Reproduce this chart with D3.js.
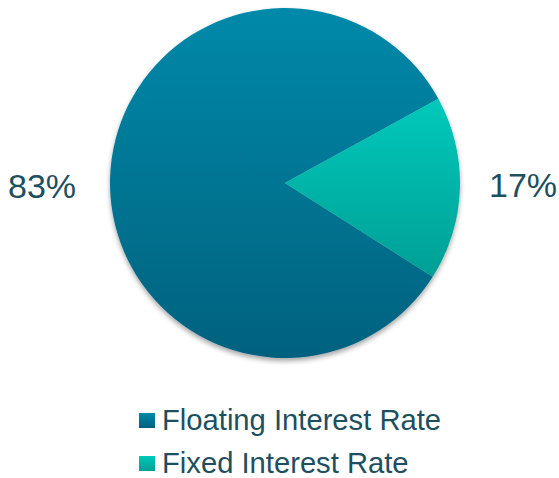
<!DOCTYPE html>
<html lang="en">
<head>
<meta charset="utf-8">
<script src="https://cdnjs.cloudflare.com/ajax/libs/d3/7.8.5/d3.min.js"></script>
<style>
  body { margin: 0; background: #fff; }
  text { font-family: "Liberation Sans", Arial, sans-serif; fill: #1d4f5f; }
</style>
</head>
<body>
<script>
// chart data
var categories = ["Floating Interest Rate", "Fixed Interest Rate"];
var values = [83, 17];
var sliceLabels = ["83%", "17%"];
var topColors = ["#0089a9", "#00c9bb"];
var bottomColors = ["#00617e", "#009f94"];

var width = 559, height = 478;
var cx = 285, cy = 183, radius = 175;

var svg = d3.select("body").append("svg")
    .attr("width", width)
    .attr("height", height);

var defs = svg.append("defs");

var shadow = defs.append("filter")
    .attr("id", "shadow")
    .attr("x", "-20%").attr("y", "-20%")
    .attr("width", "140%").attr("height", "140%");
shadow.append("feDropShadow")
    .attr("dx", 0).attr("dy", 3)
    .attr("stdDeviation", 2.5)
    .attr("flood-color", "#000")
    .attr("flood-opacity", 0.35);

// the small slice sits on the right, so the pie is rotated
var pie = d3.pie()
    .sort(null)
    .value(function(d) { return d; })
    .startAngle(Math.PI * 2 * 0.34)
    .endAngle(Math.PI * 2 * 1.34);

var arcs = pie(values);

var arc = d3.arc().innerRadius(0).outerRadius(radius);

// vertical gradient per slice
topColors.forEach(function(c, i) {
  var g = defs.append("linearGradient")
      .attr("id", "grad" + i)
      .attr("x1", 0).attr("y1", 0)
      .attr("x2", 0).attr("y2", 1);
  g.append("stop").attr("offset", "0%").attr("stop-color", c);
  g.append("stop").attr("offset", "100%").attr("stop-color", bottomColors[i]);
});

var g = svg.append("g")
    .attr("transform", "translate(" + cx + "," + cy + ")")
    .attr("filter", "url(#shadow)");

g.selectAll("path")
    .data(arcs)
    .enter().append("path")
    .attr("d", arc)
    .attr("fill", function(d, i) { return "url(#grad" + i + ")"; });

// percentage labels outside the pie
var labelPos = [[42, 198], [523, 197]];
svg.selectAll(".pct")
    .data(sliceLabels)
    .enter().append("text")
    .attr("class", "pct")
    .attr("x", function(d, i) { return labelPos[i][0]; })
    .attr("y", function(d, i) { return labelPos[i][1]; })
    .attr("text-anchor", "middle")
    .style("font-size", "34px")
    .text(function(d) { return d; });

// legend
var legend = svg.append("g")
    .attr("transform", "translate(139,413)");

var rows = legend.selectAll("g")
    .data(categories)
    .enter().append("g")
    .attr("transform", function(d, i) { return "translate(0," + (i * 43) + ")"; });

rows.append("rect")
    .attr("width", 16)
    .attr("height", 15)
    .attr("fill", function(d, i) { return "url(#grad" + i + ")"; });

rows.append("text")
    .attr("x", 23)
    .attr("y", 17)
    .style("font-size", "29.2px")
    .text(function(d) { return d; });
</script>
</body>
</html>
